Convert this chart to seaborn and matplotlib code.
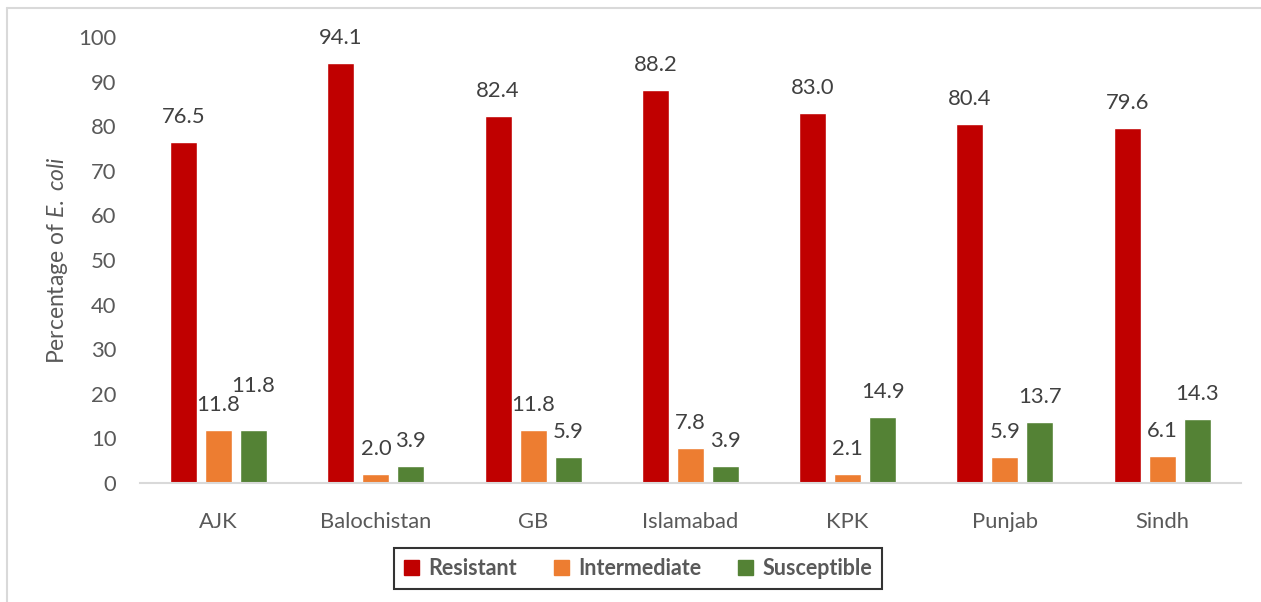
import matplotlib
matplotlib.use("Agg")
import matplotlib.pyplot as plt
from matplotlib.lines import Line2D
import seaborn as sns
import pandas as pd

regions = ["AJK", "Balochistan", "GB", "Islamabad", "KPK", "Punjab", "Sindh"]
series = ["Resistant", "Intermediate", "Susceptible"]
resistant = [76.5, 94.1, 82.4, 88.2, 83.0, 80.4, 79.6]
intermediate = [11.8, 2.0, 11.8, 7.8, 2.1, 5.9, 6.1]
susceptible = [11.8, 3.9, 5.9, 3.9, 14.9, 13.7, 14.3]
colors = ["#C00000", "#ED7D31", "#548235"]

df = pd.DataFrame({
    "Region": regions * 3,
    "Status": [s for s in series for _ in regions],
    "Value": resistant + intermediate + susceptible,
})

sns.set_theme(style="white")
plt.rcParams["font.family"] = ["Lato", "DejaVu Sans"]
plt.rcParams["mathtext.fontset"] = "custom"
plt.rcParams["mathtext.rm"] = "Lato"
plt.rcParams["mathtext.it"] = "Lato:italic"

text_gray = "#595959"
fs = 15.8

fig = plt.figure(figsize=(12.61, 6.02), dpi=100)
ax = fig.add_axes([0.111, 0.1977, 0.873, 0.7408])

sns.barplot(data=df, x="Region", y="Value", hue="Status", order=regions,
            hue_order=series, palette=colors, width=0.667, gap=0.227,
            saturation=1, ax=ax, legend=False)

ax.set_ylim(0, 100)
ax.set_xlim(-0.5, len(regions) - 0.5)
ax.set_yticks(range(0, 101, 10))
ax.tick_params(axis="both", length=0, labelsize=fs, colors=text_gray)
ax.tick_params(axis="x", pad=21)
ax.tick_params(axis="y", pad=17)
for s in ["left", "top", "right"]:
    ax.spines[s].set_visible(False)
ax.spines["bottom"].set_color("#D9D9D9")
ax.spines["bottom"].set_linewidth(1.5)

ax.set_xlabel("")
ax.set_ylabel(r"Percentage of $\mathit{E.\ coli}$", fontsize=16.5, color=text_gray, labelpad=6)

# value labels above each bar; the coincident AJK pair is nudged apart
for si, cont in enumerate(ax.containers):
    for ri, bar in enumerate(cont):
        h = bar.get_height()
        lift = 18
        if si == 2 and regions[ri] == "AJK":
            lift = 32
        ax.annotate(f"{h:.1f}", (bar.get_x() + bar.get_width() / 2, h),
                    xytext=(0, lift), textcoords="offset points",
                    ha="center", va="center", fontsize=fs, color="#404040")

handles = [plt.Rectangle((0, 0), 1, 1, color=c) for c in colors]
leg = fig.legend(handles, series, loc="center", bbox_to_anchor=(0.506, 0.0556),
                 ncol=3, frameon=True, fancybox=False, handlelength=0.7,
                 handleheight=0.7, columnspacing=1.7, handletextpad=0.45,
                 borderpad=0.45, borderaxespad=0, prop={"weight": "bold", "size": 15.5})
leg.get_frame().set_edgecolor("black")
leg.get_frame().set_linewidth(1.5)
for t in leg.get_texts():
    t.set_color(text_gray)

# chart area outline
fig.add_artist(Line2D([7 / 1261, 1], [1 - 8 / 602, 1 - 8 / 602], color="#D9D9D9", lw=1.5))
fig.add_artist(Line2D([7 / 1261, 7 / 1261], [0, 1 - 8 / 602], color="#D9D9D9", lw=1.5))

fig.savefig("out.png", dpi=100)
